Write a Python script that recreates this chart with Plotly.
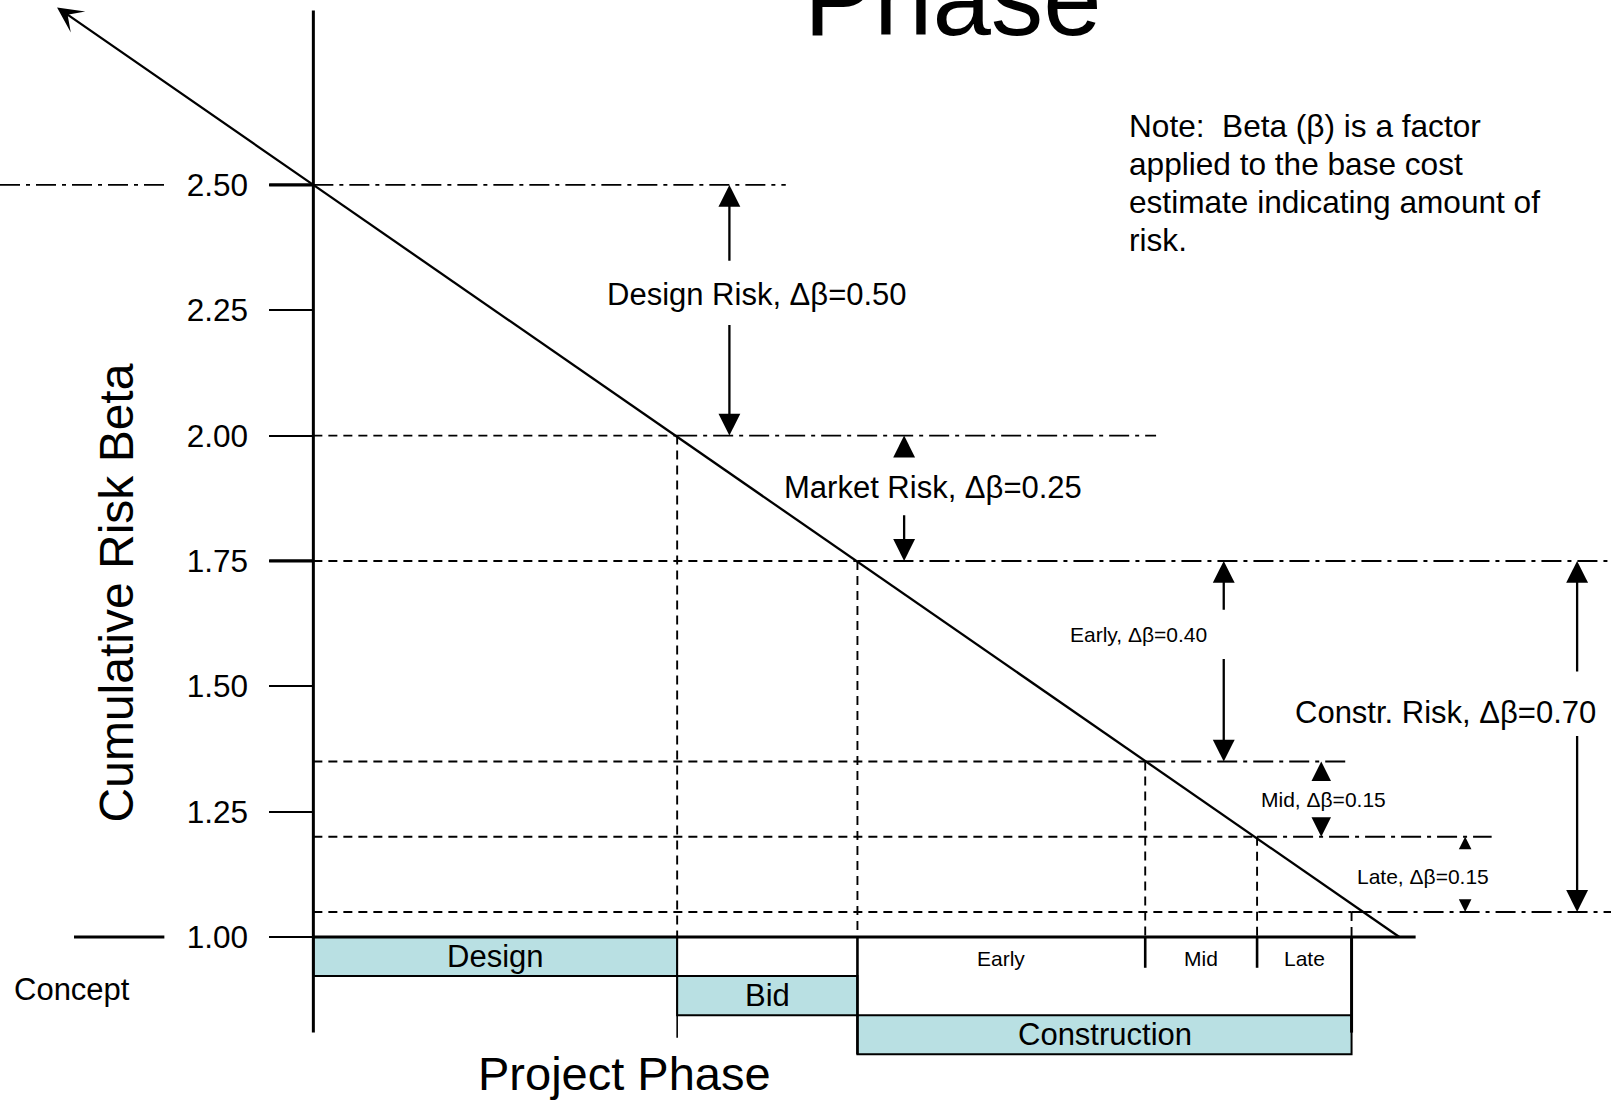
import plotly.graph_objects as go

FONT = "Liberation Sans, Arial, Helvetica, sans-serif"

# ---------------- data ----------------
# project progress (% of duration) where each phase ends
phases = ["Design", "Bid", "Construction"]
phase_end = [33.5, 50.1, 95.6]
sub_phases = ["Early", "Mid", "Late"]
sub_phase_end = [76.6, 86.9, 95.6]
curve_end = 100.0            # progress where cumulative beta reaches 1.00

# cumulative risk beta at each milestone
beta_start = 2.50            # concept
beta_phase_end = [2.00, 1.75]          # after Design, after Bid
beta_sub_end = [1.35, 1.20, 1.05]      # after Early, Mid, Late construction
beta_floor = 1.00

y_ticks = [1.00, 1.25, 1.50, 1.75, 2.00, 2.25, 2.50]
y_tick_text = ["%.2f" % v for v in y_ticks]

risk_bands = [
    ("Design Risk, \u0394\u03b2=0.50", beta_start, beta_phase_end[0]),
    ("Market Risk, \u0394\u03b2=0.25", beta_phase_end[0], beta_phase_end[1]),
    ("Early, \u0394\u03b2=0.40", beta_phase_end[1], beta_sub_end[0]),
    ("Mid, \u0394\u03b2=0.15", beta_sub_end[0], beta_sub_end[1]),
    ("Late, \u0394\u03b2=0.15", beta_sub_end[1], beta_sub_end[2]),
    ("Constr. Risk, \u0394\u03b2=0.70", beta_phase_end[1], beta_sub_end[2]),
]

note_lines = [
    "Note:  Beta (\u03b2) is a factor",
    "applied to the base cost",
    "estimate indicating amount of",
    "risk.",
]

# ---------------- layout constants ----------------
X_MIN, X_MAX = -28.855, 119.49
Y_MIN, Y_MAX = 0.6749, 2.8688
ROW = 0.078                  # height of one phase bar row
FILL = "#B9E0E3"
DASH = "9px,6px"
DASHDOT = "20px,6px,4px,6px"
GUIDE_W = 1.9


def beta_on_line(p):
    return beta_start - (beta_start - beta_floor) * p / curve_end


shapes = []


def seg(x0, y0, x1, y1, width=2.0, dash="solid"):
    shapes.append(dict(type="line", xref="x", yref="y", x0=x0, y0=y0, x1=x1, y1=y1,
                       line=dict(color="black", width=width, dash=dash)))


def box(x0, y0, x1, y1):
    shapes.append(dict(type="rect", xref="x", yref="y", x0=x0, y0=y0, x1=x1, y1=y1,
                       fillcolor=FILL, line=dict(color="black", width=2), layer="below"))


# milestone levels: dashed up to the curve, dash-dot beyond it
levels = [beta_start] + beta_phase_end + beta_sub_end
crossings = [0.0] + phase_end[:2] + sub_phase_end
right_ends = [43.5, 77.6, X_MAX, 95.4, 108.5, X_MAX]
for b, xc, xr in zip(levels, crossings, right_ends):
    if xc > 0:
        seg(0, b, xc, b, GUIDE_W, DASH)
        seg(xc, b, xc, beta_floor, GUIDE_W, DASH)
    seg(xc, b, xr, b, GUIDE_W, DASHDOT)
seg(X_MIN, beta_start, -13.25, beta_start, GUIDE_W, DASHDOT)

# phase bars
box(0, beta_floor, phase_end[0], beta_floor - ROW)
box(phase_end[0], beta_floor - ROW, phase_end[1], beta_floor - 2 * ROW)
box(phase_end[1], beta_floor - 2 * ROW, phase_end[2], beta_floor - 3 * ROW)

# axes lines and phase separators
seg(0, 0.8093, 0, 2.848, 3)
seg(0, beta_floor, 101.5, beta_floor, 3.2)
seg(-22.04, beta_floor, -13.72, beta_floor, 3.2)
seg(phase_end[0], beta_floor, phase_end[0], 0.799, 1.6)
seg(phase_end[1], beta_floor, phase_end[1], beta_floor - 3 * ROW, 2.6)
seg(sub_phase_end[0], beta_floor, sub_phase_end[0], 0.9386, 2.6)
seg(sub_phase_end[1], beta_floor, sub_phase_end[1], 0.9386, 2.6)
seg(sub_phase_end[2], beta_floor, sub_phase_end[2], 0.8093, 3)
# heavier ticks at the 2.50 and 1.75 levels
seg(-4.07, beta_start, 0, beta_start, 3.2)
seg(-4.07, beta_phase_end[1], 0, beta_phase_end[1], 3.2)

fig = go.Figure()

# cumulative risk curve
fig.add_trace(go.Scatter(x=[0, curve_end], y=[beta_start, beta_on_line(curve_end)],
                         mode="lines", line=dict(color="black", width=2.3),
                         hoverinfo="skip", showlegend=False))

ann = []


def text(x, y, s, size, xanchor="center", angle=0, yanchor="middle"):
    ann.append(dict(x=x, y=y, xref="x", yref="y", text=s, showarrow=False,
                    xanchor=xanchor, yanchor=yanchor, textangle=angle,
                    font=dict(family=FONT, size=size, color="black")))


def arrow(x, y_head, y_tail, width=2, size=1.5):
    ann.append(dict(x=x, y=y_head, ax=x, ay=y_tail, xref="x", yref="y",
                    axref="x", ayref="y", text="", showarrow=True,
                    arrowhead=2, arrowsize=size, arrowwidth=width,
                    arrowcolor="black", standoff=0, startstandoff=0))


# extension of the curve with its arrow head
tip = -23.6
ann.append(dict(x=tip, y=beta_on_line(tip), ax=0, ay=beta_start, xref="x", yref="y",
                axref="x", ayref="y", text="", showarrow=True, arrowhead=3,
                arrowsize=1.85, arrowwidth=2.3, arrowcolor="black", standoff=0))

# risk band dimension arrows
band_layout = [
    # arrow x, label x, label y, upper tail, lower tail, font, head size, line width
    (38.31, 40.87, 2.2806, 2.346, 2.2234, 31, 1.9, 2.3),
    (54.40, 57.05, 1.8975, 1.961, 1.844, 31, 1.9, 2.3),
    (83.83, 75.97, 1.6025, 1.6496, 1.5574, 21, 1.9, 2.3),
    (92.81, 93.00, 1.2746, 1.3175, 1.2254, 21, 1.7, 2.3),
    (106.06, 102.18, 1.1209, 1.1836, 1.062, 21, 1.8, 1.4),
    (116.37, 104.26, 1.4487, 1.5265, 1.4037, 31, 1.9, 2.3),
]
for (label, top, bottom), (ax_, lx, ly, ut, dt, fs, hs, lw) in zip(risk_bands, band_layout):
    arrow(ax_, top, ut, lw, hs)
    arrow(ax_, bottom, dt, lw, hs)
    text(lx, ly, label, fs)

# phase labels
text(phase_end[0] / 2, beta_floor - 0.5 * ROW, phases[0], 31)
text((phase_end[0] + phase_end[1]) / 2, beta_floor - 1.5 * ROW, phases[1], 31)
text((phase_end[1] + phase_end[2]) / 2, beta_floor - 2.5 * ROW, phases[2], 31)
sub_start = [phase_end[1]] + sub_phase_end[:2]
for name, a, b in zip(sub_phases, sub_start, sub_phase_end):
    text((a + b) / 2, beta_floor - 0.55 * ROW, name, 21)

text(-22.23, 0.8955, "Concept", 31)
text(28.67, 0.7274, "Project Phase", 47)
text(-18.16, 1.6855, "Cumulative Risk Beta", 48, angle=-90)
text(58.9, 2.751, "Phase", 105, yanchor="bottom")

note_y = [2.6167, 2.5409, 2.4651, 2.3893]
for s, y in zip(note_lines, note_y):
    text(74.95, y, s, 31.6, xanchor="left")

fig.update_layout(
    width=1611, height=1100, autosize=False,
    margin=dict(l=0, r=0, t=0, b=0, pad=0),
    paper_bgcolor="white", plot_bgcolor="white",
    showlegend=False,
    shapes=shapes, annotations=ann,
    xaxis=dict(range=[X_MIN, X_MAX], domain=[0, 1], visible=False, fixedrange=True),
    yaxis=dict(range=[Y_MIN, Y_MAX], domain=[0, 1], anchor="free",
               position=0.1945, side="left",
               tickvals=y_ticks, ticktext=y_tick_text,
               ticks="outside", ticklen=44, tickwidth=2, tickcolor="black",
               ticklabelstandoff=15,
               tickfont=dict(family=FONT, size=31.5, color="black"),
               showline=False, showgrid=False, zeroline=False, fixedrange=True),
)

fig.write_html("out.html")
